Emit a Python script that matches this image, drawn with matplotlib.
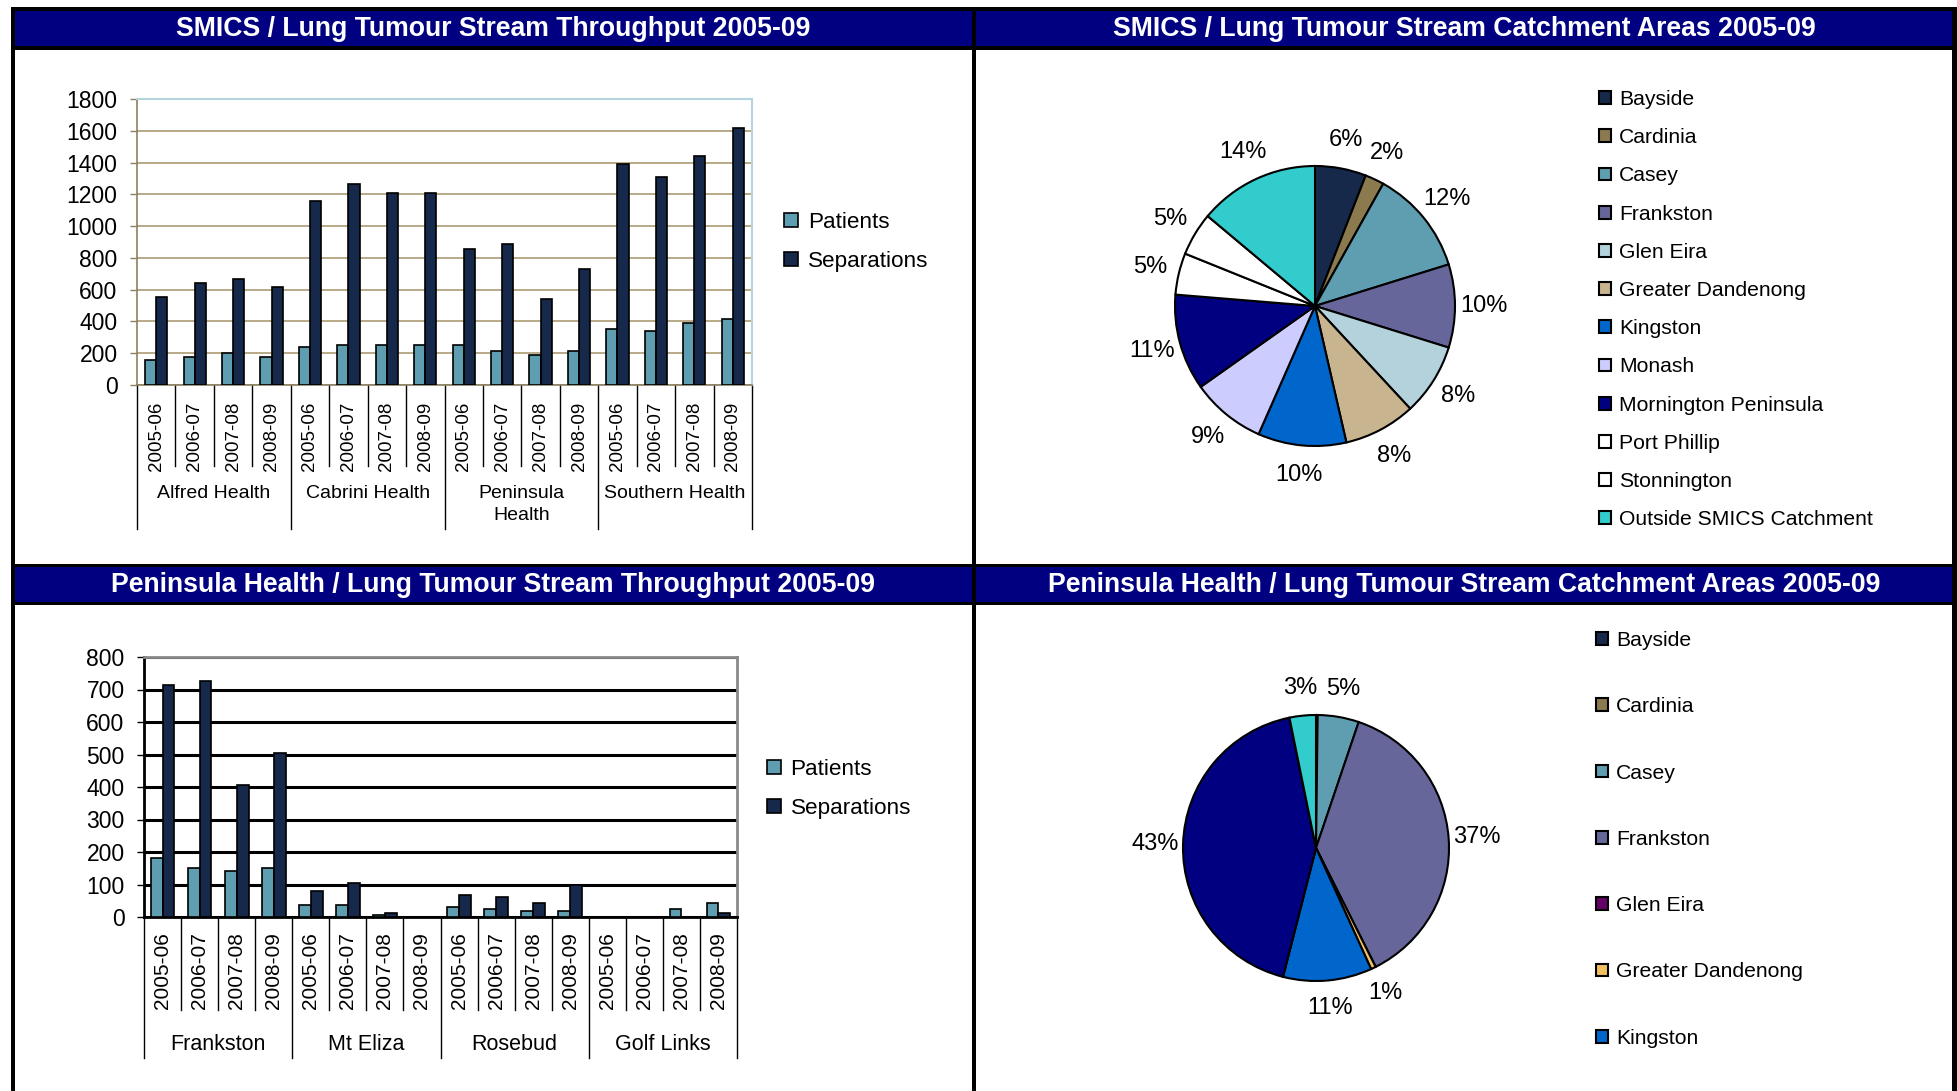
import matplotlib
matplotlib.use("Agg")
import matplotlib.pyplot as plt
from matplotlib.patches import Rectangle
import numpy as np

plt.rcParams['font.family'] = ['Liberation Sans', 'DejaVu Sans']

W, H = 1957, 1091

# ---- data ----
periods = ['2005-06', '2006-07', '2007-08', '2008-09']

smics_groups = ['Alfred Health', 'Cabrini Health', 'Peninsula\nHealth', 'Southern Health']
smics_patients = [157, 179, 202, 179, 242, 253, 253, 253, 253, 213, 190, 213, 354, 339, 390, 415]
smics_separations = [554, 639, 668, 614, 1157, 1267, 1206, 1206, 854, 890, 543, 729, 1392, 1307, 1442, 1617]

pen_groups = ['Frankston', 'Mt Eliza', 'Rosebud', 'Golf Links']
pen_patients = [183, 152, 142, 152, 36, 36, 5, 0, 30, 24, 18, 18, 0, 0, 24, 43]
pen_separations = [714, 726, 406, 504, 80, 104, 11, 0, 68, 61, 43, 99, 0, 0, 0, 11]

areas = ['Bayside', 'Cardinia', 'Casey', 'Frankston', 'Glen Eira', 'Greater Dandenong',
         'Kingston', 'Monash', 'Mornington Peninsula', 'Port Phillip', 'Stonnington',
         'Outside SMICS Catchment']
smics_share = [5.9, 2.2, 12.1, 9.6, 8.3, 8.3, 10.2, 8.6, 11.1, 4.8, 5.0, 13.9]
pen_share = [0.2, 0, 5.0, 37.4, 0, 0.6, 10.8, 0, 42.8, 0, 0, 3.2]

smics_colors = ['#17294a', '#8c7a4f', '#5f9eb0', '#66669a', '#b4d2dc', '#c8b48f',
                '#0066cc', '#ccccff', '#000080', '#ffffff', '#ffffff', '#33cccc']
pen_colors = ['#17294a', '#8c7a4f', '#5f9eb0', '#66669a', '#660066', '#f2c060',
              '#0066cc', '#ccccff', '#000080', '#ffffff', '#ffffff', '#33cccc']

PATIENT_COLOR = '#5f9eb0'
SEP_COLOR = '#17294a'
NAVY = '#000080'


def px_rect(x0, y0, x1, y1):
    # pixel box (top-left origin) -> figure fraction rect
    return [x0 / W, 1 - y1 / H, (x1 - x0) / W, (y1 - y0) / H]


def box(fig, x0, y0, x1, y1, color):
    fig.add_artist(Rectangle((x0 / W, 1 - y1 / H), (x1 - x0) / W, (y1 - y0) / H,
                             transform=fig.transFigure, facecolor=color,
                             edgecolor='none', zorder=-1))


def bar_panel(fig, rect, groups, patients, separations, ymax, ystep, width,
              style, legend_xy):
    ax = fig.add_axes(px_rect(*rect))
    x = np.arange(len(patients))
    ax.bar(x - width / 2, patients, width, color=PATIENT_COLOR, edgecolor='black',
           linewidth=1.2, label='Patients', zorder=3)
    ax.bar(x + width / 2, separations, width, color=SEP_COLOR, edgecolor='black',
           linewidth=1.2, label='Separations', zorder=3)
    ax.set_xlim(-0.5, len(x) - 0.5)
    ax.set_ylim(0, ymax)
    ax.set_yticks(np.arange(0, ymax + 1, ystep))
    ax.yaxis.grid(True, color=style['grid'], linewidth=style['grid_lw'])
    ax.set_axisbelow(True)

    for side in ('top', 'right'):
        ax.spines[side].set_color(style['frame'])
        ax.spines[side].set_linewidth(style['frame_lw'])
    for side in ('left', 'bottom'):
        ax.spines[side].set_color(style['axis'])
        ax.spines[side].set_linewidth(style['axis_lw'])

    ax.tick_params(axis='y', length=5, width=1, color=style['axis'],
                   labelsize=style['ylabel_size'], pad=9)
    ax.set_xticks(x)
    ax.set_xticklabels(periods * len(groups), rotation=90, va='top',
                       fontsize=style['xlabel_size'])
    ax.tick_params(axis='x', length=0, pad=style['xpad'])

    # multi-level category axis: separators and group names
    trans = ax.get_xaxis_transform()
    for i in range(len(x) + 1):
        bottom = style['group_depth'] if i % 4 == 0 else style['tick_depth']
        ax.plot([i - 0.5, i - 0.5], [0, bottom], transform=trans, color='black',
                linewidth=1, clip_on=False)
    for g, name in enumerate(groups):
        ax.text(g * 4 + 1.5, style['group_y'], name, transform=trans, ha='center',
                va='top', fontsize=style['group_size'], linespacing=1.4)

    ax.legend(loc='upper left', bbox_to_anchor=(legend_xy[0] / W, 1 - legend_xy[1] / H),
              bbox_transform=fig.transFigure, frameon=False, fontsize=16.2,
              handlelength=0.6, handleheight=0.6, handletextpad=0.45,
              labelspacing=0.8, borderpad=0, borderaxespad=0)
    return ax


def pie_panel(fig, center, r, share, colors, n_legend, legend_xy, spacing):
    cx, cy = center
    k = 1.4
    ax = fig.add_axes(px_rect(cx - k * r, cy - k * r, cx + k * r, cy + k * r))
    ax.set_facecolor('none')
    wedges, texts, autotexts = ax.pie(
        share, colors=colors, startangle=90, counterclock=False,
        autopct=lambda p: '%.0f%%' % p if p >= 0.5 else '',
        pctdistance=1.21,
        wedgeprops=dict(edgecolor='black', linewidth=1.5),
        textprops=dict(fontsize=17))
    ax.set_xlim(-k, k)
    ax.set_ylim(-k, k)
    ax.set_aspect('equal')
    ax.axis('off')
    ax.legend(wedges[:n_legend], areas[:n_legend], loc='upper left',
              bbox_to_anchor=(legend_xy[0] / W, 1 - legend_xy[1] / H),
              bbox_transform=fig.transFigure, frameon=False, fontsize=15.2,
              handlelength=0.55, handleheight=0.55, handletextpad=0.4,
              labelspacing=spacing, borderpad=0, borderaxespad=0)
    return ax


fig = plt.figure(figsize=(W / 100, H / 100), dpi=100)

# 边框和标题栏
box(fig, 11, 7, 1957, H + 5, 'black')
for x0, x1 in ((15, 972), (976, 1952)):
    box(fig, x0, 50, x1, 564, 'white')
    box(fig, x0, 605, x1, H + 5, 'white')
    box(fig, x0, 11, x1, 46, NAVY)
    box(fig, x0, 567, x1, 602, NAVY)

titles = [
    (493, 28.5, 'SMICS / Lung Tumour Stream Throughput 2005-09'),
    (1464, 28.5, 'SMICS / Lung Tumour Stream Catchment Areas 2005-09'),
    (493, 584.5, 'Peninsula Health / Lung Tumour Stream Throughput 2005-09'),
    (1464, 584.5, 'Peninsula Health / Lung Tumour Stream Catchment Areas 2005-09'),
]
for tx, ty, t in titles:
    fig.text(tx / W, 1 - ty / H, t, color='white', fontweight='bold', fontsize=19.2,
             ha='center', va='center')

# 上左：SMICS 柱状图
smics_style = dict(grid='#b3a47e', grid_lw=1.3, frame='#b6d4de', frame_lw=1.5,
                   axis='#8c8060', axis_lw=1.2, ylabel_size=16.5, xlabel_size=13.5,
                   xpad=12, tick_depth=-0.283, group_depth=-0.503, group_y=-0.35,
                   group_size=14)
bar_panel(fig, (137, 99, 752, 385), smics_groups, smics_patients, smics_separations,
          1800, 200, 0.29, smics_style, (784, 212))

# 下左：Peninsula 柱状图
pen_style = dict(grid='black', grid_lw=2.2, frame='#8a8a8a', frame_lw=2,
                 axis='black', axis_lw=2, ylabel_size=16.5, xlabel_size=15,
                 xpad=11, tick_depth=-0.358, group_depth=-0.542, group_y=-0.45,
                 group_size=15.5)
bar_panel(fig, (144, 657, 737, 917), pen_groups, pen_patients, pen_separations,
          800, 100, 0.32, pen_style, (767, 759))

# 右：饼图
pie_panel(fig, (1315, 306), 140, smics_share, smics_colors, 12, (1599, 90), 0.91)
pie_panel(fig, (1316, 848), 133, pen_share, pen_colors, 7, (1596, 631), 2.24)

fig.savefig('out.png', dpi=100)
